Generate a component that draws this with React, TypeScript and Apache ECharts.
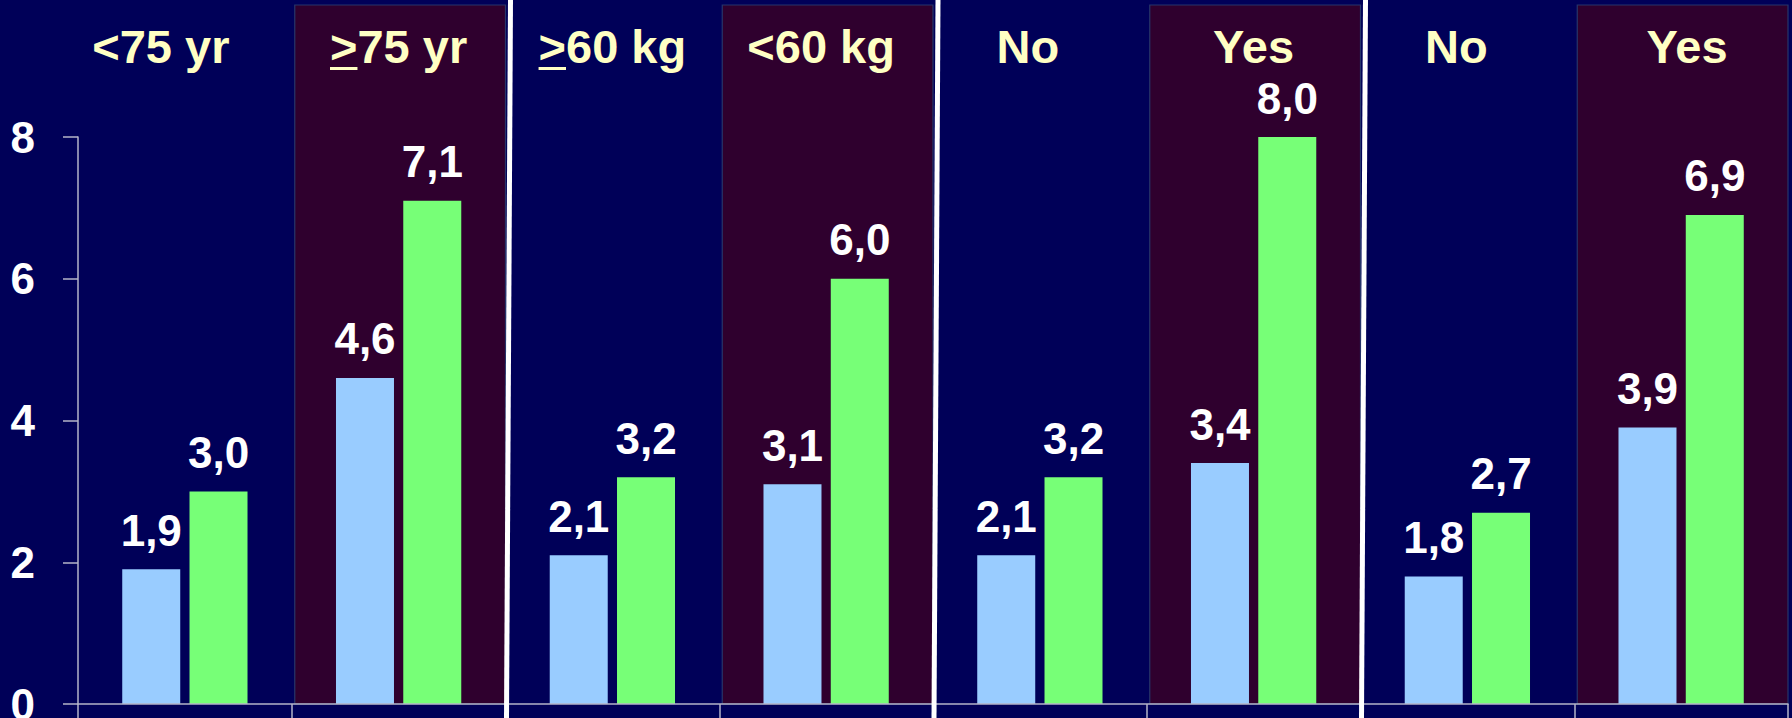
import React, { useEffect, useRef } from 'react';
import * as echarts from 'echarts';

// ---- data ----
const categories = ['<75 yr', '>75 yr', '>60 kg', '<60 kg', 'No', 'Yes', 'No', 'Yes'];
// categories whose leading ">" is underlined (i.e. means "≥")
const underlinedCategories = [1, 2];
const blueValues = [1.9, 4.6, 2.1, 3.1, 2.1, 3.4, 1.8, 3.9];
const greenValues = [3.0, 7.1, 3.2, 6.0, 3.2, 8.0, 2.7, 6.9];
const yMin = 0;
const yMax = 8;
const yInterval = 2;
const shadedCategories = [1, 3, 5, 7];
const separatorAfter = [1, 3, 5];

// ---- styles ----
const FONT = "'Liberation Sans', Arial, Helvetica, sans-serif";
const NAVY = '#000058';
const MAROON = '#2f002e';
const CREAM = '#ffffc4';
const BLUE = '#99ccff';
const GREEN = '#77ff77';
const AXIS = '#b4b4c8';
const CAT_FONT_SIZE = 47;
const CAT_LABEL_Y = 46;
const labelShift: Record<number, number> = { 0: -24, 3: -5, 4: -12, 6: -11, 7: 6 };

const fmt = (v: number) => v.toFixed(1).replace('.', ',');

export default function App() {
  const ref = useRef<HTMLDivElement>(null);

  useEffect(() => {
    if (!ref.current) return;
    const chart = echarts.init(ref.current, undefined, { renderer: 'svg' });

    const canvas = document.createElement('canvas');
    const ctx = canvas.getContext('2d') as CanvasRenderingContext2D;
    ctx.font = `bold ${CAT_FONT_SIZE}px ${FONT}`;

    const barLabel = {
      show: true,
      position: 'top',
      distance: 17,
      color: '#ffffff',
      fontSize: 44,
      fontWeight: 'bold',
      fontFamily: FONT,
      formatter: (p: any) => fmt(p.value),
    };

    const option: any = {
      animation: false,
      backgroundColor: NAVY,
      grid: {
        left: 78,
        right: 4,
        top: 137,
        bottom: 14,
        containLabel: false,
        outerBoundsMode: 'none',
      },
      xAxis: {
        type: 'category',
        data: categories,
        position: 'bottom',
        z: 5,
        axisLine: { show: true, lineStyle: { color: AXIS, width: 1.5 } },
        axisTick: { show: true, length: 20, lineStyle: { color: AXIS, width: 1.5 } },
        axisLabel: { show: false },
        splitLine: { show: false },
      },
      yAxis: {
        type: 'value',
        min: yMin,
        max: yMax,
        interval: yInterval,
        axisLine: { show: true, lineStyle: { color: AXIS, width: 1.5 } },
        axisTick: { show: true, length: 15, lineStyle: { color: AXIS, width: 1.5 } },
        splitLine: { show: false },
        axisLabel: {
          margin: 43,
          color: '#ffffff',
          fontSize: 44,
          fontWeight: 'bold',
          fontFamily: FONT,
        },
      },
      series: [
        {
          name: 'bands',
          type: 'custom',
          z: 1,
          clip: false,
          silent: true,
          encode: { x: 0, y: 1 },
          data: shadedCategories.map((i) => [i, 0]),
          renderItem: (params: any, api: any) => {
            const idx = api.value(0);
            const c = api.coord([idx, 0]);
            const w = api.size([1, 0])[0];
            return {
              type: 'rect',
              shape: { x: c[0] - w / 2 + 3, y: 5, width: w - 3, height: c[1] - 5 },
              style: { fill: MAROON, stroke: '#27356a', lineWidth: 1.2 },
            };
          },
        },
        {
          name: 'separators',
          type: 'custom',
          z: 10,
          clip: false,
          silent: true,
          encode: { x: 0, y: 1 },
          data: separatorAfter.map((i) => [i, 0]),
          renderItem: (params: any, api: any) => {
            const idx = api.value(0);
            const c = api.coord([idx, 0]);
            const w = api.size([1, 0])[0];
            const xb = c[0] + w / 2;
            return {
              type: 'line',
              shape: { x1: xb + 1, y1: api.getHeight(), x2: xb + 5, y2: 0 },
              style: { stroke: '#ffffff', lineWidth: 5 },
            };
          },
        },
        {
          name: 'categoryLabels',
          type: 'custom',
          z: 10,
          clip: false,
          silent: true,
          encode: { x: 0, y: 1 },
          data: categories.map((_, i) => [i, 0]),
          renderItem: (params: any, api: any) => {
            const idx = api.value(0);
            const c = api.coord([idx, 0]);
            const text = categories[idx];
            const cx = c[0] + (labelShift[idx] || 0);
            const children: any[] = [
              {
                type: 'text',
                style: {
                  text,
                  x: cx,
                  y: CAT_LABEL_Y,
                  align: 'center',
                  verticalAlign: 'middle',
                  fill: CREAM,
                  fontSize: CAT_FONT_SIZE,
                  fontWeight: 'bold',
                  fontFamily: FONT,
                },
              },
            ];
            if (underlinedCategories.indexOf(idx) >= 0) {
              const W = ctx.measureText(text).width;
              const gw = ctx.measureText('>').width;
              children.push({
                type: 'rect',
                shape: { x: cx - W / 2, y: 67, width: gw, height: 3 },
                style: { fill: CREAM },
              });
            }
            return { type: 'group', children };
          },
        },
        {
          name: 'blue',
          type: 'bar',
          data: blueValues,
          barWidth: 58,
          barGap: '16%',
          itemStyle: { color: BLUE },
          label: barLabel,
        },
        {
          name: 'green',
          type: 'bar',
          data: greenValues,
          barWidth: 58,
          barGap: '16%',
          itemStyle: { color: GREEN },
          label: barLabel,
        },
      ],
    };

    chart.setOption(option);
    return () => chart.dispose();
  }, []);

  return (
    <div
      ref={ref}
      style={{ position: 'absolute', left: 0, top: 0, width: 1792, height: 718 }}
    />
  );
}
